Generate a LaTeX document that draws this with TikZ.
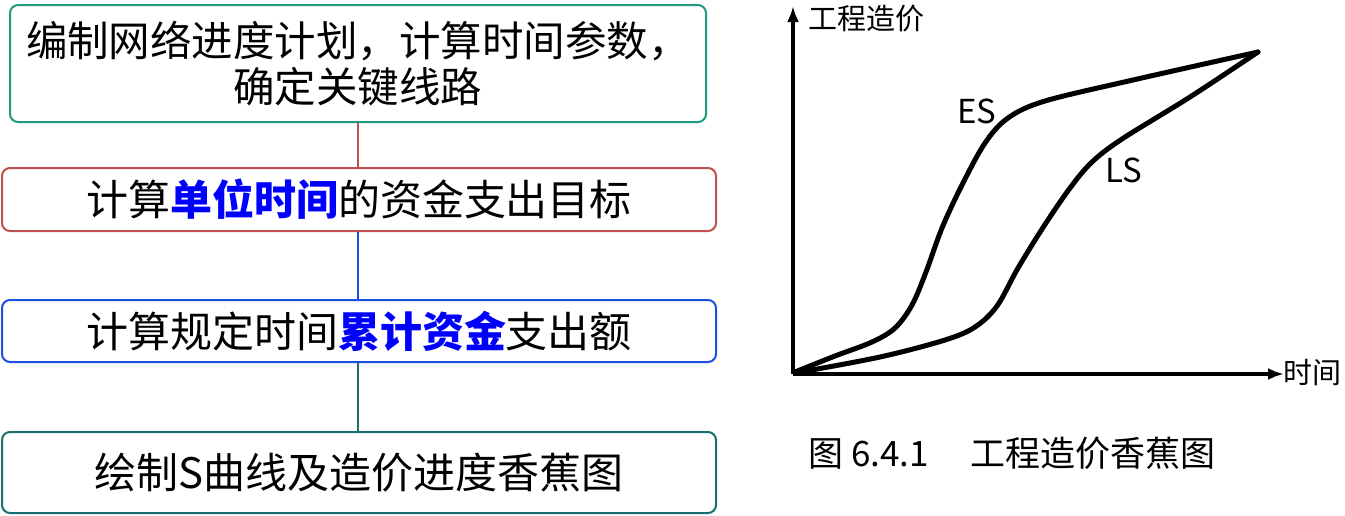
\documentclass[tikz,border=0pt]{standalone}
\usepackage{fontspec}
\setmainfont{Noto Sans CJK SC}
\newfontfamily\cjk{Noto Sans CJK SC}
\usetikzlibrary{arrows.meta}
\definecolor{cgreen}{HTML}{1F9A80}
\definecolor{cred}{HTML}{C0504D}
\definecolor{cblue}{HTML}{1A4FE0}
\definecolor{cteal}{HTML}{1B6E6E}
\definecolor{hl}{HTML}{0000FF}
\newcommand{\hlt}[1]{\textcolor{hl}{\bfseries #1}}
\tikzset{
  stepbox/.style={draw, line width=2pt, rounded corners=8pt, align=center, inner sep=0pt, font=\cjk\fontsize{42}{46}\selectfont},
  link/.style={line width=1.5pt},
  curve/.style={line width=5pt, line cap=round, line join=round},
  axis/.style={line width=4.5pt, -{Latex[length=16pt,width=12pt]}},
  lbl/.style={font=\cjk\fontsize{29}{32}\selectfont, inner sep=0pt},
}
\begin{document}
\begin{tikzpicture}[x=1pt,y=-1pt]
\useasboundingbox (0,0) rectangle (1345,515);
% flow boxes
\node[stepbox, draw=cgreen, minimum width=696pt, minimum height=117pt, font=\cjk\fontsize{41.5}{46}\selectfont] (b1) at (358,63.5) {编制网络进度计划，计算时间参数，\\确定关键线路};
\node[stepbox, draw=cred, minimum width=714pt, minimum height=63pt] (b2) at (359,199.5) {计算\hlt{单位时间}的资金支出目标};
\node[stepbox, draw=cblue, minimum width=714pt, minimum height=62pt] (b3) at (359,331) {计算规定时间\hlt{累计资金}支出额};
\node[stepbox, draw=cteal, minimum width=714pt, minimum height=81pt] (b4) at (359,472.5) {绘制S曲线及造价进度香蕉图};
\draw[link, cred] (b1.south -| 358,0) -- (b2.north -| 358,0);
\draw[link, cblue] (b2.south -| 358,0) -- (b3.north -| 358,0);
\draw[link, cteal] (b3.south -| 358,0) -- (b4.north -| 358,0);
% chart
\coordinate (O) at (793,374);
\coordinate (Ytop) at (793,6);
\coordinate (Xend) at (1284,374);
\draw[axis] (O) -- (Ytop);
\draw[axis] (O) -- (Xend);
\draw[curve] plot[smooth, tension=0.55] coordinates {(795,372) (835,356) (872,342) (895,328) (912,305) (926,272) (942,228) (962,185) (985,143) (1008,118) (1045,101) (1133,80) (1258,52)};
\draw[curve] plot[smooth, tension=0.55] coordinates {(795,373) (880,357) (945,340) (975,327) (997,306) (1018,268) (1044,226) (1070,188) (1092,162) (1122,139) (1190,97) (1258,52)};
\node[lbl, anchor=west] (ylab) at (808,19) {工程造价};
\node[lbl, anchor=west] (xlab) at (1283,373) {时间};
\node[font=\cjk\fontsize{33}{36}\selectfont, inner sep=0pt] (es) at (977,111) {ES};
\node[font=\cjk\fontsize{33}{36}\selectfont, inner sep=0pt] (ls) at (1124,170) {LS};
\node[font=\cjk\fontsize{35}{38}\selectfont, inner sep=0pt, anchor=west] (cap) at (808,453) {图 6.4.1\hspace{1.2em}工程造价香蕉图};
\end{tikzpicture}
\end{document}
